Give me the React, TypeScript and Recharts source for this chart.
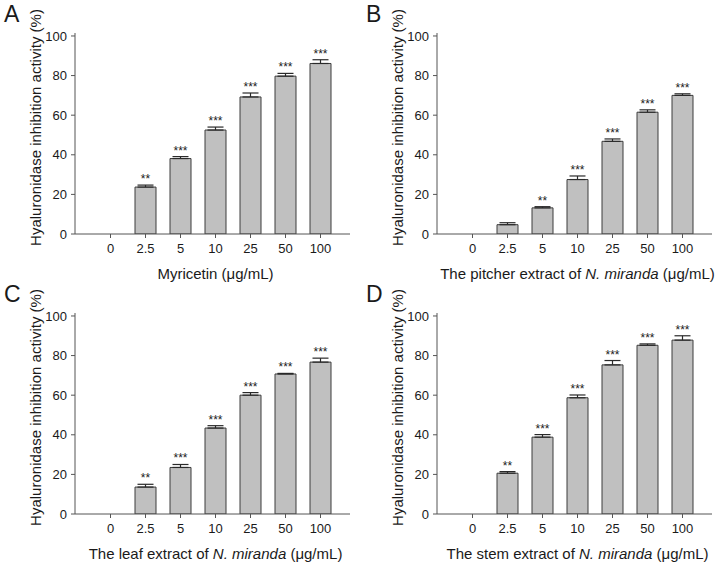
import React from 'react';
import { BarChart, Bar, XAxis, YAxis, ErrorBar, LabelList } from 'recharts';

const DOSES = ['0', '2.5', '5', '10', '25', '50', '100'];
const Y_TICKS = [0, 20, 40, 60, 80, 100];

const MYRICETIN = [0, 23.7, 38.1, 52.5, 69.2, 79.7, 86.1];
const MYRICETIN_SD = [0, 1.0, 1.0, 1.5, 2.0, 1.4, 1.9];
const MYRICETIN_SIG = ['', '**', '***', '***', '***', '***', '***'];

const PITCHER = [0, 4.7, 13.2, 27.5, 46.8, 61.5, 70.0];
const PITCHER_SD = [0, 1.0, 0.6, 1.8, 1.2, 1.2, 0.8];
const PITCHER_SIG = ['', '', '**', '***', '***', '***', '***'];

const LEAF = [0, 13.6, 23.5, 43.4, 60.0, 70.7, 76.7];
const LEAF_SD = [0, 1.4, 1.5, 1.2, 1.3, 0.3, 2.0];
const LEAF_SIG = ['', '**', '***', '***', '***', '***', '***'];

const STEM = [0, 20.6, 38.8, 58.7, 75.3, 85.2, 87.8];
const STEM_SD = [0, 0.8, 1.3, 1.4, 2.2, 0.7, 2.2];
const STEM_SIG = ['', '**', '***', '***', '***', '***', '***'];

const FONT = '"Liberation Sans", Arial, sans-serif';
const TEXT = '#1a1a1a';
const FRAME = '#555555';

const buildRows = (vals: number[], sd: number[], sig: string[]) =>
  DOSES.map((d, i) => ({
    dose: d,
    value: vals[i],
    err: [0, sd[i]],
    // packed so the label can place itself above the error cap
    sig: sig[i] ? `${sig[i]}|${vals[i]}|${sd[i]}` : '',
  }));

const Stars = (props: any) => {
  const { x, y, width, height, value } = props;
  if (!value) return null;
  const [txt, v, s] = String(value).split('|');
  const ppu = Math.abs(height) / Number(v);
  const errTop = y - Number(s) * ppu;
  return (
    <text x={x + width / 2} y={errTop - 2} textAnchor="middle" fontSize={12} fill={TEXT} fontFamily={FONT}>
      {txt}
    </text>
  );
};

interface PanelProps {
  letter: string;
  vals: number[];
  sd: number[];
  sig: string[];
  prefix: string;
  italic?: string;
  left: number;
  top: number;
}

function Panel({ letter, vals, sd, sig, prefix, italic, left, top }: PanelProps) {
  const rows = buildRows(vals, sd, sig);

  const YTitle = (props: any) => {
    const vb = props.viewBox;
    const cx = vb.x + 5;
    const cy = vb.y + vb.height / 2 - 6;
    return (
      <text x={cx} y={cy} transform={`rotate(-90 ${cx} ${cy})`} textAnchor="middle" dominantBaseline="central"
        fontSize={15} fill={TEXT} fontFamily={FONT}>
        Hyaluronidase inhibition activity (%)
      </text>
    );
  };

  const XTitle = (props: any) => {
    const vb = props.viewBox;
    return (
      <text x={vb.x + vb.width / 2 + 3} y={vb.y + 45} textAnchor="middle" fontSize={15} fill={TEXT} fontFamily={FONT}>
        {prefix}
        {italic ? <tspan fontStyle="italic">{italic}</tspan> : null}
        {italic ? ' ' : ''}(μg/mL)
      </text>
    );
  };

  return (
    <div style={{ position: 'absolute', left, top, width: 362, height: 284 }}>
      <span style={{ position: 'absolute', left: 4, top: 0, fontFamily: FONT, fontSize: 23, color: TEXT, lineHeight: '28px' }}>
        {letter}
      </span>
      <BarChart width={362} height={284} data={rows} margin={{ top: 33, right: 12, bottom: 25, left: 30 }}
        barSize={21}>
        <XAxis dataKey="dose" interval={0} padding={{ left: 18, right: 12 }} height={25}
          tickSize={4} tickMargin={6} stroke={FRAME}
          tick={{ fill: TEXT, fontSize: 13, fontFamily: FONT }}
          label={<XTitle />} />
        <XAxis xAxisId="top" orientation="top" dataKey="dose" height={0} tick={false} tickLine={false} stroke={FRAME} />
        <YAxis domain={[0, 101.5]} ticks={Y_TICKS} interval={0} width={45} tickSize={4} tickMargin={4}
          stroke={FRAME} tick={{ fill: TEXT, fontSize: 13, fontFamily: FONT }} allowDataOverflow
          label={<YTitle />} />
        <YAxis yAxisId="right" orientation="right" domain={[0, 101.5]} width={0} tick={false} tickLine={false}
          stroke={FRAME} />
        <Bar dataKey="value" fill="#c0c0c0" stroke="#3c3c3c" strokeWidth={1} isAnimationActive={false}>
          <ErrorBar dataKey="err" width={8} stroke="#2a2a2a" strokeWidth={1.2} direction="y" />
          <LabelList dataKey="sig" content={<Stars />} />
        </Bar>
      </BarChart>
    </div>
  );
}

export default function App() {
  return (
    <div style={{ position: 'absolute', left: 0, top: 0, width: 723, height: 568, background: '#fff' }}>
      <Panel letter="A" vals={MYRICETIN} sd={MYRICETIN_SD} sig={MYRICETIN_SIG} prefix="Myricetin " left={0} top={0} />
      <Panel letter="B" vals={PITCHER} sd={PITCHER_SD} sig={PITCHER_SIG} prefix="The pitcher extract of " italic="N. miranda"
        left={362} top={0} />
      <Panel letter="C" vals={LEAF} sd={LEAF_SD} sig={LEAF_SIG} prefix="The leaf extract of " italic="N. miranda"
        left={0} top={280} />
      <Panel letter="D" vals={STEM} sd={STEM_SD} sig={STEM_SIG} prefix="The stem extract of " italic="N. miranda"
        left={362} top={280} />
    </div>
  );
}
